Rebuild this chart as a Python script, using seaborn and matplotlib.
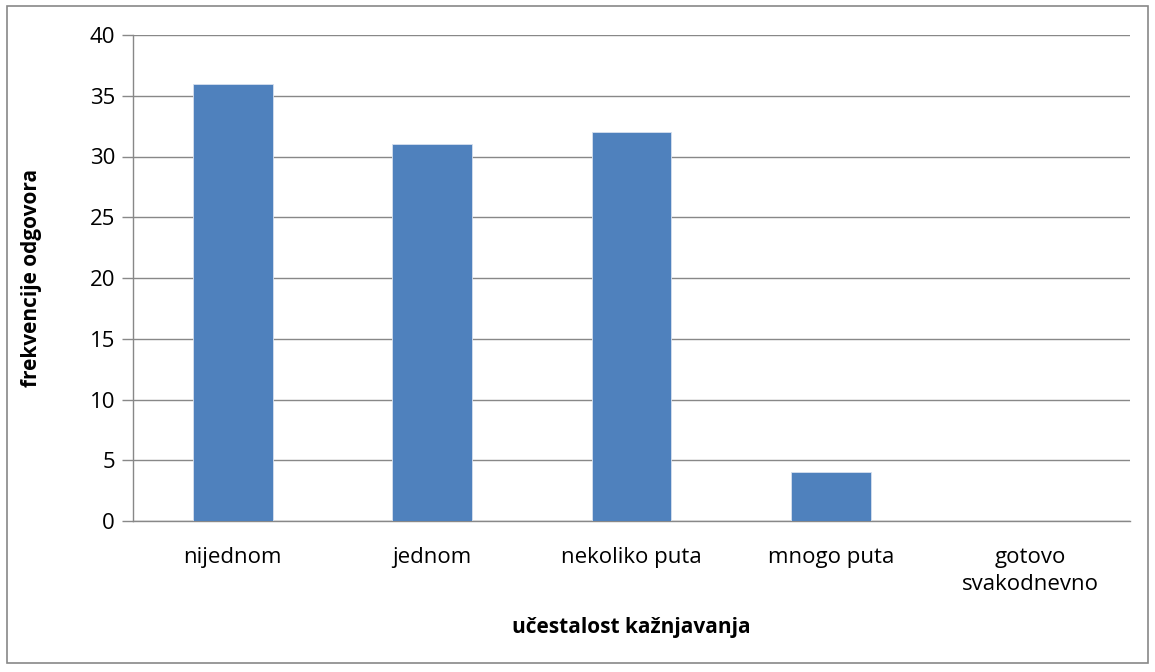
import matplotlib
matplotlib.use("Agg")
import matplotlib.pyplot as plt
import seaborn as sns
import pandas as pd
from matplotlib.patches import Rectangle

categories = ["nijednom", "jednom", "nekoliko puta", "mnogo puta", "gotovo\nsvakodnevno"]
values = [36, 31, 32, 4, 0]
yticks = [0, 5, 10, 15, 20, 25, 30, 35, 40]

sns.set_theme(style="white")
plt.rcParams['font.family'] = ['Open Sans', 'DejaVu Sans']

df = pd.DataFrame({"cat": categories, "val": values})

fig = plt.figure(figsize=(11.55, 6.72), dpi=100)
ax = fig.add_axes([133/1155, 1 - 521/672, (1130-133)/1155, (521-35)/672])

sns.barplot(data=df, x="cat", y="val", color="#4F81BD", saturation=1, width=0.4, ax=ax,
            zorder=3, linewidth=0.6, edgecolor="#D6E0EE")

ax.set_ylim(0, 40)
ax.set_yticks(yticks)
ax.set_xlim(-0.5, 4.5)
ax.yaxis.grid(True, color="#888888", linewidth=1.0, zorder=0)
ax.set_axisbelow(True)
for s in ["top", "right"]:
    ax.spines[s].set_visible(False)
ax.spines["left"].set_color("#888888")
ax.spines["bottom"].set_color("#888888")
ax.spines["left"].set_linewidth(1.0)
ax.spines["bottom"].set_linewidth(1.0)
ax.tick_params(axis="y", which="both", left=True, length=8, width=1.0, color="#888888",
               labelsize=16, pad=5, labelcolor="black")
ax.tick_params(axis="x", bottom=False, labelsize=16, pad=13, labelcolor="black")
for lbl in ax.get_xticklabels():
    lbl.set_linespacing(1.35)

ax.set_xlabel("učestalost kažnjavanja", fontsize=15, fontweight="bold", labelpad=16, color="black")
ax.set_ylabel("frekvencije odgovora", fontsize=15, fontweight="bold", labelpad=34, color="black")

fig.patches.append(Rectangle((7/1155, 1 - 663/672), (1148-7)/1155, (663-6)/672,
                             transform=fig.transFigure, fill=False, edgecolor="#888888", linewidth=1.2))

fig.savefig("out.png", dpi=100)
